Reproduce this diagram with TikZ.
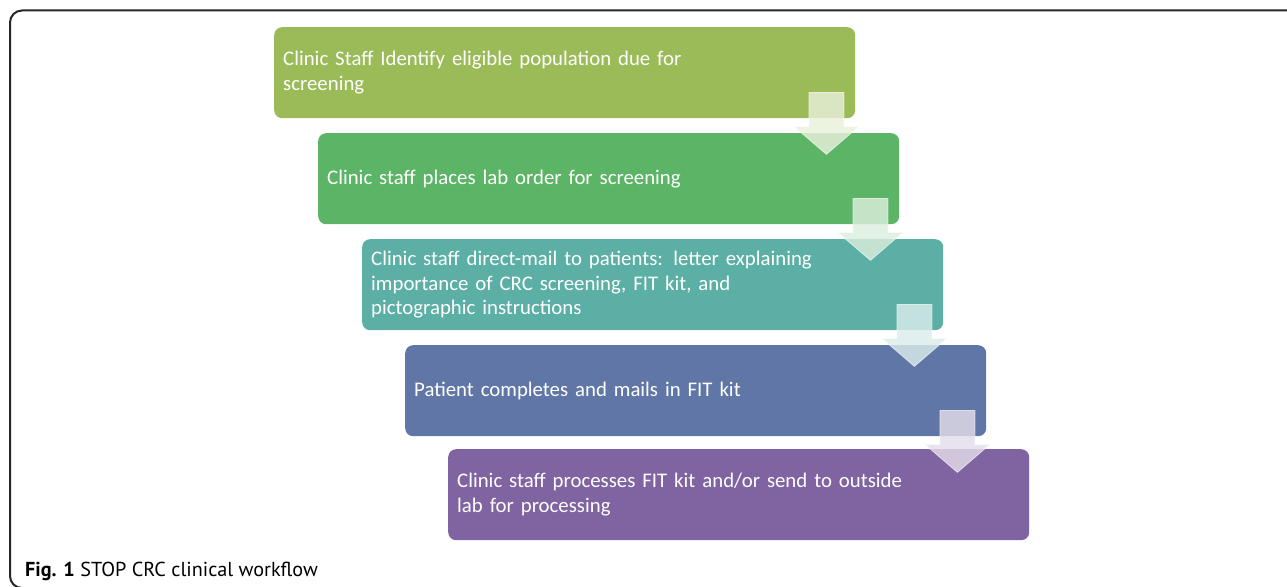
\documentclass[tikz,border=0pt]{standalone}
\usepackage{fontspec}
\setmainfont{Carlito}
\newfontfamily\capfont{PT Sans}
\usetikzlibrary{positioning}

\definecolor{stepA}{HTML}{9BBB59}
\definecolor{stepB}{HTML}{5CB466}
\definecolor{stepC}{HTML}{5BAFA5}
\definecolor{stepD}{HTML}{5F76A6}
\definecolor{stepE}{HTML}{8063A1}

\tikzset{
  stepbox/.style = {rounded corners=8pt, anchor=north west, minimum width=581pt,
    minimum height=91pt, inner xsep=9pt, text width=563pt, align=left,
    text=white, font=\fontsize{20.8}{24.5}\selectfont},
  flowarrow/.style = {draw=white, draw opacity=0.6, fill opacity=0.82, line width=0.8pt}
}
\newcommand{\flowarrow}[2]{%
  \filldraw[flowarrow, fill=#2!22!white] ([shift={(-46.5,-26)}]#1.south east)
    -- ++(35,0) -- ++(0,34) -- ++(15,0) -- ++(-32.5,28) -- ++(-32.5,-28)
    -- ++(15,0) -- cycle;}

\begin{document}
\begin{tikzpicture}[x=1pt, y=-1pt]
    \path[use as bounding box, clip] (0,0) rectangle (1287,586);
    \draw[line width=2pt, rounded corners=12pt, black!85] (10,10.5) rectangle (1310,588);

    % Steps
    \node[stepbox, fill=stepA] (identify) at (274,27)
      {Clinic Staff Identify eligible population due for\\screening};
    \node[stepbox, fill=stepB] (order) at (318,133)
      {Clinic staff places lab order for screening};
    \node[stepbox, fill=stepC] (mail) at (362,239)
      {Clinic staff direct-mail to patients: letter explaining\\importance of CRC screening, FIT kit, and\\pictographic instructions};
    \node[stepbox, fill=stepD] (complete) at (405,345)
      {Patient completes and mails in FIT kit};
    \node[stepbox, fill=stepE] (process) at (448,449)
      {Clinic staff processes FIT kit and/or send to outside\\lab for processing};

    % Arrows
    \flowarrow{identify}{stepA}
    \flowarrow{order}{stepB}
    \flowarrow{mail}{stepC}
    \flowarrow{complete}{stepE}

    % Caption
    \node[anchor=base west, inner sep=0pt, font=\capfont\fontsize{20.2}{23}\selectfont] (caption) at (25,576)
      {\textbf{Fig. 1} STOP CRC clinical workflow};
\end{tikzpicture}
\end{document}
